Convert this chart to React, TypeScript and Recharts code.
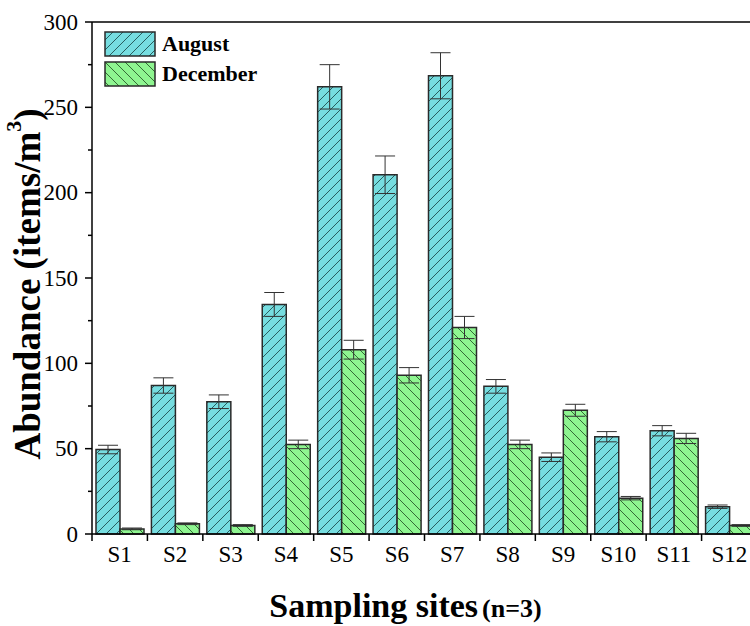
import React from 'react';
import { BarChart, Bar, XAxis, YAxis, ErrorBar, ReferenceLine, Legend } from 'recharts';

const categories = ['S1', 'S2', 'S3', 'S4', 'S5', 'S6', 'S7', 'S8', 'S9', 'S10', 'S11', 'S12'];
const augustValues = [49.5, 87, 77.5, 134.5, 262, 210.5, 268.5, 86.5, 45, 57, 60.5, 16];
const augustErrors = [2.5, 4.5, 4, 7, 13, 11, 13.5, 4, 2.5, 3, 3, 1];
const decemberValues = [3, 6, 5, 52.5, 108, 93, 121, 52.5, 72.5, 21, 56, 5];
const decemberErrors = [0.5, 0.5, 0.5, 2.5, 5.5, 4.5, 6.5, 2.5, 3.5, 1, 3, 0.5];
const yTicks = [0, 25, 50, 75, 100, 125, 150, 175, 200, 225, 250, 275, 300];

const data = categories.map((site, i) => ({
  site,
  august: augustValues[i],
  augustErr: augustErrors[i],
  december: decemberValues[i],
  decemberErr: decemberErrors[i],
}));

const FONT = '"Liberation Serif", "Times New Roman", serif';
const CHART_W = 770;
const CHART_H = 626;
const MARGIN = { top: 22, right: 13, bottom: 0, left: 0 };
const Y_W = 92;
const X_H = 92;
const PLOT_W = CHART_W - MARGIN.left - MARGIN.right - Y_W;
const BAND = PLOT_W / categories.length;

const AUG_FILL = '#76dde0';
const DEC_FILL = '#8ef590';
const EDGE = '#2a2a2a';

const YTick = (props: any) => {
  const { x, y, payload } = props;
  const v = payload.value;
  const major = v % 50 === 0;
  return (
    <g>
      <line x1={x} x2={x - (major ? 7 : 4)} y1={y} y2={y} stroke="#000" strokeWidth={1.5} />
      {major && (
        <text x={x - 14} y={y} textAnchor="end" dominantBaseline="central" fontSize={23} fontFamily={FONT} fill="#000">
          {v}
        </text>
      )}
    </g>
  );
};

const XTick = (props: any) => {
  const { x, y, payload } = props;
  const bx = x - BAND / 2;
  return (
    <g>
      <line x1={bx} x2={bx} y1={y} y2={y + 7} stroke="#000" strokeWidth={1.5} />
      <text x={x} y={y + 28} textAnchor="middle" fontSize={23} fontFamily={FONT} fill="#000">
        {payload.value}
      </text>
    </g>
  );
};

const YLabel = () => {
  const cx = 27;
  const cy = 284;
  return (
    <text
      x={cx}
      y={cy}
      transform={`rotate(-90, ${cx}, ${cy})`}
      textAnchor="middle"
      dominantBaseline="central"
      fontSize={37}
      fontWeight="bold"
      fontFamily={FONT}
      fill="#000"
    >
      Abundance (items/m
      <tspan fontSize={22} dy={-14}>3</tspan>
      <tspan dy={14}>)</tspan>
    </text>
  );
};

const XLabel = (props: any) => {
  const vb = props.viewBox || { x: 92, y: 534, width: 665, height: 92 };
  const cx = vb.x + vb.width / 2 - 19;
  return (
    <text x={cx} y={vb.y + 83} textAnchor="middle" fontFamily={FONT} fontWeight="bold" fill="#000">
      <tspan fontSize={34}>Sampling sites</tspan>
      <tspan fontSize={26} dx={4}>(n=3)</tspan>
    </text>
  );
};

const LegendContent = () => {
  const items = [
    { label: 'August', fill: 'url(#hatchAug)' },
    { label: 'December', fill: 'url(#hatchDec)' },
  ];
  return (
    <div style={{ display: 'flex', flexDirection: 'column', gap: 6 }}>
      {items.map((it) => (
        <div key={it.label} style={{ display: 'flex', alignItems: 'center', height: 24 }}>
          <svg width={52} height={26} style={{ display: 'block' }}>
            <rect x={1} y={1} width={50} height={24} fill={it.fill} stroke={EDGE} strokeWidth={1.5} />
          </svg>
          <span style={{ fontFamily: FONT, fontWeight: 'bold', fontSize: 22, marginLeft: 6, color: '#000', lineHeight: '24px' }}>
            {it.label}
          </span>
        </div>
      ))}
    </div>
  );
};

export default function App() {
  return (
    <div style={{ position: 'fixed', left: 0, top: 0, width: 750, height: 626, overflow: 'hidden', background: '#fff' }}>
      <svg width={0} height={0} style={{ position: 'absolute' }}>
        <defs>
          <pattern id="hatchAug" patternUnits="userSpaceOnUse" width={10} height={10}>
            <rect width={10} height={10} fill={AUG_FILL} />
            <path d="M-1,1 L1,-1 M0,10 L10,0 M9,11 L11,9" stroke="#1f4f50" strokeWidth={0.9} />
          </pattern>
          <pattern id="hatchDec" patternUnits="userSpaceOnUse" width={10} height={10}>
            <rect width={10} height={10} fill={DEC_FILL} />
            <path d="M-1,9 L1,11 M0,0 L10,10 M9,-1 L11,1" stroke="#2a5a2a" strokeWidth={0.9} />
          </pattern>
        </defs>
      </svg>
      <BarChart width={CHART_W} height={CHART_H} data={data} margin={MARGIN} barGap={0} barSize={24}>
        <ReferenceLine y={300} stroke="#000" strokeWidth={1.5} />
        <XAxis
          dataKey="site"
          height={X_H}
          interval={0}
          tickSize={0}
          tickMargin={0}
          tick={<XTick />}
          axisLine={{ stroke: '#000', strokeWidth: 1.5 }}
          tickLine={false}
          label={{ content: <XLabel /> }}
        />
        <YAxis
          width={Y_W}
          domain={[0, 300]}
          ticks={yTicks}
          interval={0}
          tickSize={0}
          tickMargin={0}
          tick={<YTick />}
          tickLine={false}
          axisLine={{ stroke: '#000', strokeWidth: 1.5 }}
          label={{ content: <YLabel /> }}
        />
        <Legend
          layout="horizontal"
          verticalAlign="middle"
          align="center"
          content={<LegendContent />}
          wrapperStyle={{ top: 32, left: 104, width: 'auto', height: 'auto' }}
        />
        <Bar dataKey="august" name="August" fill="url(#hatchAug)" stroke={EDGE} strokeWidth={1.5} isAnimationActive={false}>
          <ErrorBar dataKey="augustErr" width={10} stroke="#333" strokeWidth={1} />
        </Bar>
        <Bar dataKey="december" name="December" fill="url(#hatchDec)" stroke={EDGE} strokeWidth={1.5} isAnimationActive={false}>
          <ErrorBar dataKey="decemberErr" width={10} stroke="#333" strokeWidth={1} />
        </Bar>
      </BarChart>
    </div>
  );
}
